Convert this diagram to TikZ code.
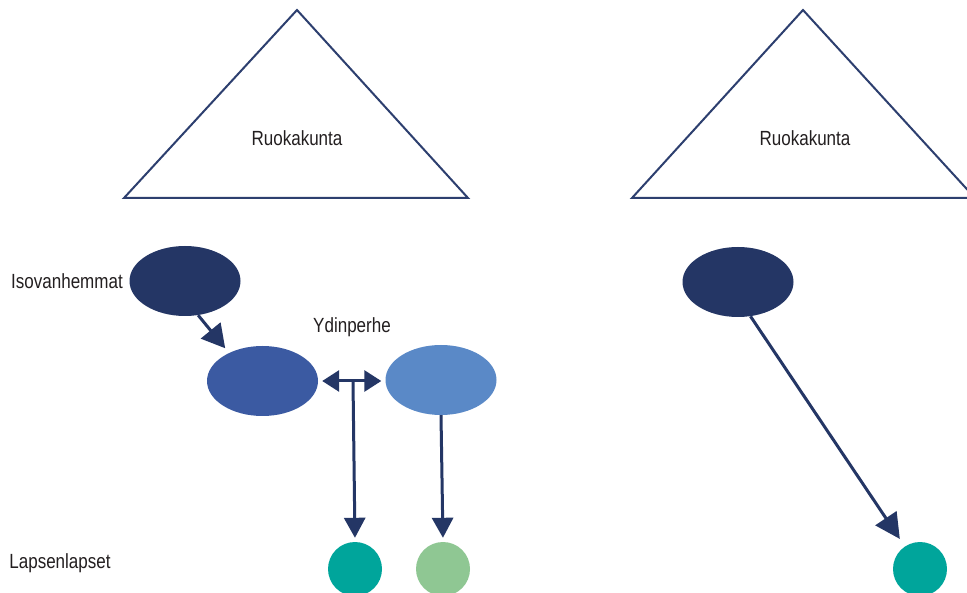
\documentclass[tikz,border=0pt]{standalone}
\usepackage{fontspec}
\setmainfont{Liberation Sans}[FakeStretch=0.83]
\usetikzlibrary{arrows.meta,calc,shapes.geometric}

\definecolor{navy}{HTML}{243665}
\definecolor{midblue}{HTML}{3B5AA2}
\definecolor{lightblue}{HTML}{5A89C7}
\definecolor{teal}{HTML}{00A59B}
\definecolor{sage}{HTML}{8FC793}
\definecolor{edge}{HTML}{2D3F6F}
\definecolor{ink}{HTML}{231F20}

\tikzset{
  person/.style={ellipse, draw=none, minimum width=111pt, minimum height=70pt, inner sep=0pt},
  child/.style={circle, draw=none, minimum size=54pt, inner sep=0pt},
  label/.style={font=\fontsize{20.5}{24}\selectfont, text=ink, inner sep=0pt},
  link/.style={draw=navy, line width=3pt},
  household/.style={draw=edge, line width=2pt, line join=miter},
}

\begin{document}
\begin{tikzpicture}[x=1pt, y=-1pt]
  \clip (0,0) rectangle (967,593);
  \fill[white] (0,0) rectangle (967,593);

  % household triangles
  \draw[household] (297,10) -- (468,198) -- (124,198) -- cycle;
  \draw[household] (803,10) -- (975,198) -- (632,198) -- cycle;
  \node[label] (hh1) at (297,138) {Ruokakunta};
  \node[label] (hh2) at (805,138) {Ruokakunta};

  % left family
  \node[person, fill=navy] (gp1) at (185,281) {};
  \node[person, fill=midblue] (p1) at (262.5,381) {};
  \node[person, fill=lightblue] (p2) at (441,380) {};
  \node[child, fill=teal] (c1) at (355,569) {};
  \node[child, fill=sage] (c2) at (443,569) {};

  \node[label] (lgp) at (67,281) {Isovanhemmat};
  \node[label] (lcore) at (352,327) {Ydinperhe};
  \node[label] (lkids) at (60,563) {Lapsenlapset};

  % right family
  \node[person, fill=navy] (gp2) at (738,282) {};
  \node[child, fill=teal] (c3) at (920,569) {};

  % connectors
  \draw[link, -{Triangle[length=23pt,width=25pt]}, shorten >=6pt] (gp1.-69) -- (p1.140);
  \draw[link, {Triangle[length=17pt,width=21pt]}-{Triangle[length=17pt,width=21pt]}, shorten <=4pt, shorten >=4pt]
    (p1.east |- 0,381) coordinate (pe) -- (p2.west |- 0,381) coordinate (pw);
  \coordinate (mid) at (353,381);
  \draw[link, -{Triangle[length=20pt,width=21pt]}, shorten >=4pt] (mid) -- (c1.north);
  \draw[link, -{Triangle[length=20pt,width=21pt]}, shorten >=4pt] (p2.south) -- (c2.north);
  \draw[link, -{Triangle[length=25pt,width=25pt]}, shorten >=9pt] (gp2.-70) -- (c3);
\end{tikzpicture}
\end{document}
